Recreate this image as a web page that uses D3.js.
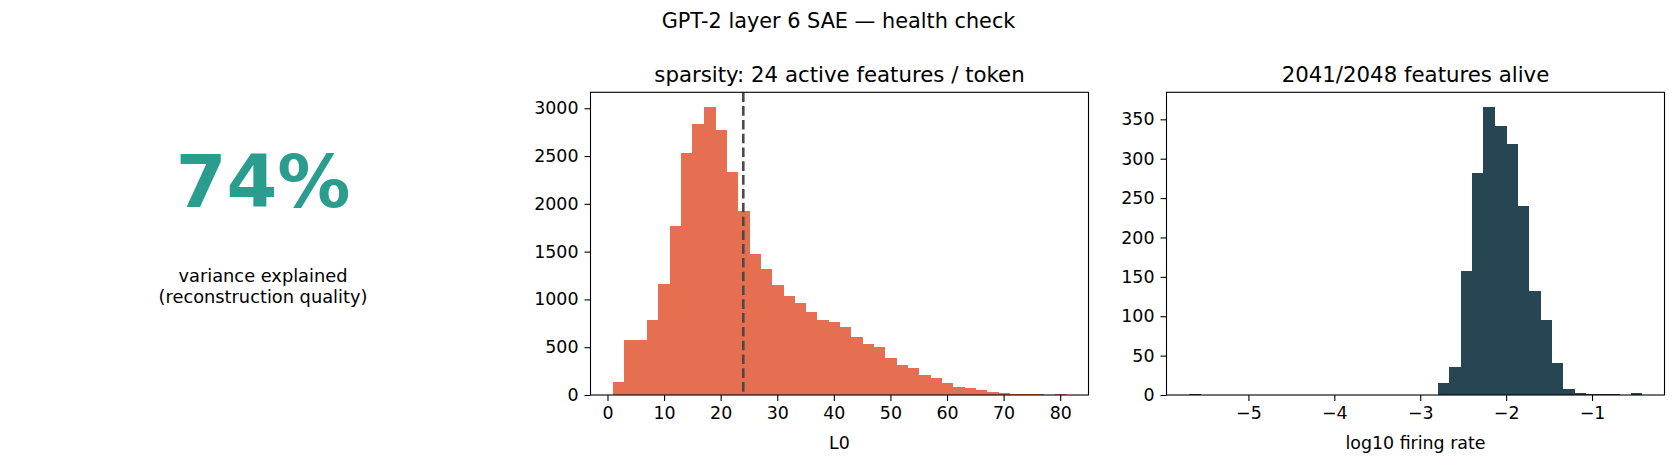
<!DOCTYPE html>
<html>
<head>
<meta charset="utf-8">
<script src="https://cdn.jsdelivr.net/npm/d3@7"></script>
<style>
    body { margin: 0; background: #fff; }
    text { font-family: "DejaVu Sans", sans-serif; }
</style>
</head>
<body>
<svg id="drawing_region"></svg>
<script>
// L0 histogram: 40 bins of width 2 from 1 to 81
const l0_edges = [1, 3, 5, 7, 9, 11, 13, 15, 17, 19, 21, 23, 25, 27, 29, 31, 33, 35, 37, 39, 41,
    43, 45, 47, 49, 51, 53, 55, 57, 59, 61, 63, 65, 67, 69, 71, 73, 75, 77, 79, 81];
const l0_counts = [136, 575, 575, 785, 1162, 1769, 2533, 2840, 3016, 2773, 2334, 1922, 1476, 1317,
    1150, 1032, 959, 865, 781, 760, 708, 603, 530, 499, 384, 310, 279, 206, 174, 122, 80, 70, 49,
    28, 17, 14, 7, 7, 0, 7];
const l0_mean = 24;
const l0_xticks = [0, 10, 20, 30, 40, 50, 60, 70, 80];
const l0_yticks = [0, 500, 1000, 1500, 2000, 2500, 3000];

// log10 firing rate histogram: 40 bins between min and max
const rate_min = -5.69;
const rate_max = -0.42;
const rate_counts = [1, 0, 0, 0, 0, 0, 0, 0, 0, 0, 0, 0, 0, 0, 0, 0, 0, 0, 0, 0, 0, 0,
    15, 35, 158, 282, 366, 341, 319, 240, 132, 95, 41, 8, 3, 1, 1, 1, 0, 2];
const rate_xticks = [-5, -4, -3, -2, -1];
const rate_yticks = [0, 50, 100, 150, 200, 250, 300, 350];

const variance_explained = 74;
const suptitle = "GPT-2 layer 6 SAE \u2014 health check";

const svg = d3.select('#drawing_region')
    .attr('width', 1677)
    .attr('height', 464);

svg.append('rect').attr('width', 1677).attr('height', 464).attr('fill', '#fff');

svg.append('text')
    .attr('x', 838.5)
    .attr('y', 28)
    .attr('text-anchor', 'middle')
    .attr('font-size', '20.8px')
    .text(suptitle);

// left panel: big number
svg.append('text')
    .attr('x', 263)
    .attr('y', 207)
    .attr('text-anchor', 'middle')
    .attr('font-size', '73px')
    .attr('font-weight', 'bold')
    .attr('fill', '#2a9d8f')
    .text(variance_explained + '%');

svg.append('text')
    .attr('x', 263)
    .attr('y', 282)
    .attr('text-anchor', 'middle')
    .attr('font-size', '17.8px')
    .text('variance explained');

svg.append('text')
    .attr('x', 263)
    .attr('y', 303)
    .attr('text-anchor', 'middle')
    .attr('font-size', '17.8px')
    .text('(reconstruction quality)');

class Histogram {
    constructor(config, bins) {
        this.config = config;
        this.bins = bins;
        this.init();
    }

    init() {
        let self = this;
        let c = self.config;
        self.chart = svg.append('g')
            .attr('transform', `translate(${c.left}, ${c.top})`);

        const lo = d3.min(self.bins, d => d.x0);
        const hi = d3.max(self.bins, d => d.x1);
        const pad = (hi - lo) * 0.05;
        self.xscale = d3.scaleLinear()
            .domain([lo - pad, hi + pad])
            .range([0, c.width]);

        self.yscale = d3.scaleLinear()
            .domain([0, d3.max(self.bins, d => d.count) * 1.05])
            .range([c.height, 0]);

        self.xaxis = d3.axisBottom(self.xscale)
            .tickValues(c.xticks)
            .tickFormat(d3.format('d'))
            .tickSize(6)
            .tickPadding(6)
            .tickSizeOuter(0);

        self.yaxis = d3.axisLeft(self.yscale)
            .tickValues(c.yticks)
            .tickFormat(d3.format('d'))
            .tickSize(6)
            .tickPadding(6)
            .tickSizeOuter(0);
    }

    render() {
        let self = this;
        let c = self.config;

        self.chart.selectAll('rect.bar')
            .data(self.bins)
            .enter()
            .append('rect')
            .attr('class', 'bar')
            .attr('x', d => self.xscale(d.x0))
            .attr('width', d => self.xscale(d.x1) - self.xscale(d.x0) + 0.6)
            .attr('y', d => self.yscale(d.count))
            .attr('height', d => c.height - self.yscale(d.count))
            .attr('fill', c.color)
            .attr('shape-rendering', 'crispEdges');

        if (c.vline !== undefined) {
            self.chart.append('line')
                .attr('x1', self.xscale(c.vline))
                .attr('x2', self.xscale(c.vline))
                .attr('y1', 0)
                .attr('y2', c.height)
                .attr('stroke', '#4a4a4a')
                .attr('stroke-width', 2.6)
                .attr('stroke-dasharray', '9.6,4.2');
        }

        const xg = self.chart.append('g')
            .attr('transform', `translate(0, ${c.height})`)
            .call(self.xaxis);
        const yg = self.chart.append('g')
            .call(self.yaxis);
        [xg, yg].forEach(g => {
            g.select('.domain').remove();
            g.selectAll('line').attr('stroke', '#000').attr('stroke-width', 1.1);
            g.selectAll('text')
                .attr('font-size', '17.4px')
                .attr('font-family', '"DejaVu Sans", sans-serif')
                .attr('fill', '#000');
        });

        // frame
        self.chart.append('rect')
            .attr('width', c.width)
            .attr('height', c.height)
            .attr('fill', 'none')
            .attr('stroke', '#000')
            .attr('stroke-width', 1.1);

        self.chart.append('text')
            .attr('x', c.width / 2)
            .attr('y', -10.4)
            .attr('text-anchor', 'middle')
            .attr('font-size', '21.3px')
            .text(c.title);

        self.chart.append('text')
            .attr('x', c.width / 2)
            .attr('y', c.height + 54)
            .attr('text-anchor', 'middle')
            .attr('font-size', '17.4px')
            .text(c.xlabel);
    }
}

const l0_bins = l0_counts.map((v, i) => ({ x0: l0_edges[i], x1: l0_edges[i + 1], count: v }));
const rate_step = (rate_max - rate_min) / rate_counts.length;
const rate_bins = rate_counts.map((v, i) => ({
    x0: rate_min + i * rate_step,
    x1: rate_min + (i + 1) * rate_step,
    count: v
}));

let l0_chart = new Histogram({
    left: 590.5, top: 92.3, width: 498, height: 302.7,
    color: '#e76f51',
    xticks: l0_xticks, yticks: l0_yticks,
    title: `sparsity: ${l0_mean} active features / token`,
    xlabel: 'L0',
    vline: l0_mean
}, l0_bins);
l0_chart.render();

let rate_chart = new Histogram({
    left: 1166.5, top: 92.3, width: 498, height: 302.7,
    color: '#264653',
    xticks: rate_xticks, yticks: rate_yticks,
    title: '2041/2048 features alive',
    xlabel: 'log10 firing rate'
}, rate_bins);
rate_chart.render();
</script>
</body>
</html>
